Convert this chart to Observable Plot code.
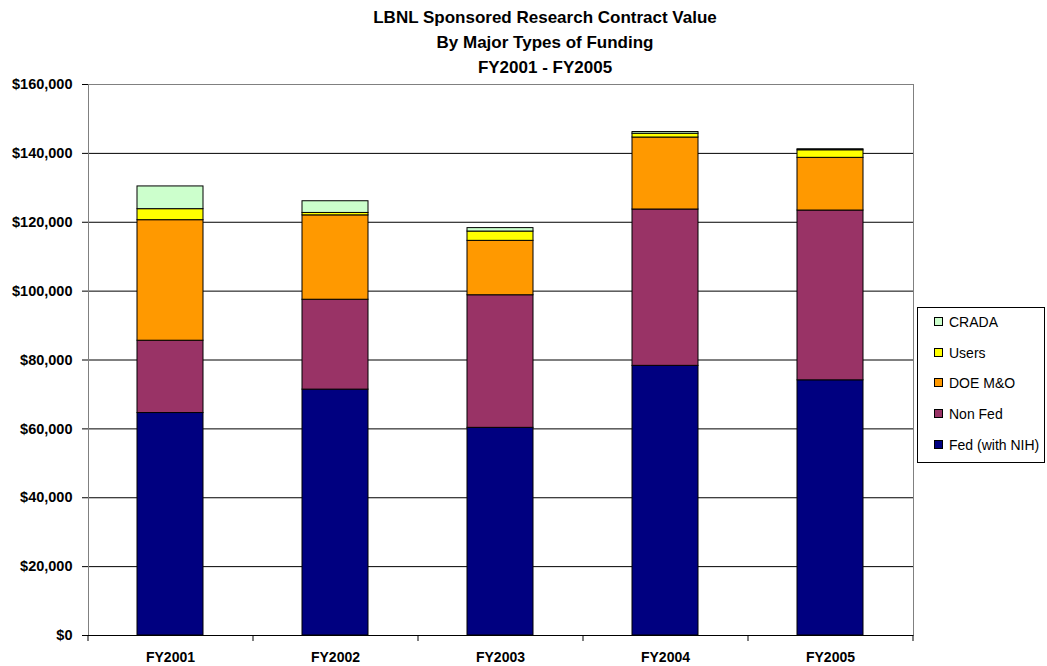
<!DOCTYPE html>
<html>
<head>
<meta charset="utf-8">
<script src="https://cdn.jsdelivr.net/npm/d3@7"></script>
<script src="https://cdn.jsdelivr.net/npm/@observablehq/plot@0.6"></script>
<style>
  html, body { margin: 0; padding: 0; background: #fff; }
  body { font-family: "Liberation Sans", Arial, sans-serif; }
  #wrap { position: relative; width: 1047px; height: 666px; overflow: hidden; }
  #title { position: absolute; left: 0; top: 5px; width: 1090px; text-align: center;
           font-weight: bold; font-size: 17px; line-height: 25px; color: #000; }
  #chart { position: absolute; left: 0; top: 76px; }
  #legend { position: absolute; left: 917px; top: 307px; width: 128px; height: 156px;
            border: 1px solid #000; background: #fff; box-sizing: border-box; }
  .item { position: absolute; left: 16px; font-size: 14px; height: 16px; line-height: 16px; white-space: nowrap; }
  .sw { display: inline-block; width: 7px; height: 7px; border: 1px solid #000; margin-right: 6px; vertical-align: 1px; }
</style>
</head>
<body>
<div id="wrap">
  <div id="title">LBNL Sponsored Research Contract Value<br>By Major Types of Funding<br>FY2001 - FY2005</div>
  <div id="chart"></div>
  <div id="legend"></div>
</div>
<script>
const years = ["FY2001", "FY2002", "FY2003", "FY2004", "FY2005"];
const seriesNames = ["Fed (with NIH)", "Non Fed", "DOE M&O", "Users", "CRADA"];
const seriesColors = ["#000080", "#993366", "#FF9900", "#FFFF00", "#CCFFCC"];
const fedWithNIH = [64600, 71400, 60300, 78300, 74100];
const nonFed = [21000, 26100, 38500, 45400, 49300];
const doeMO = [35000, 24500, 15800, 20900, 15300];
const users = [3200, 700, 2700, 1100, 2200];
const crada = [6600, 3400, 1000, 500, 300];
const yTicks = [0, 20000, 40000, 60000, 80000, 100000, 120000, 140000, 160000];

const seriesValues = [fedWithNIH, nonFed, doeMO, users, crada];
const data = [];
seriesNames.forEach((s, i) => years.forEach((y, j) => data.push({year: y, series: s, value: seriesValues[i][j]})));

const fmt = d => "$" + d3.format(",")(d);
const font = "'Liberation Sans', Arial, sans-serif";

const chart = Plot.plot({
  width: 1047,
  height: 590,
  marginLeft: 88,
  marginRight: 134,
  marginTop: 8,
  marginBottom: 31,
  style: {fontFamily: font, fontSize: "14px", background: "#fff", color: "#000"},
  x: {type: "band", domain: years, paddingInner: 0.6, paddingOuter: 0.3, label: null},
  y: {domain: [0, 160000], label: null},
  color: {domain: seriesNames, range: seriesColors},
  marks: [
    Plot.ruleY(yTicks.slice(1, -1), {stroke: "#000", strokeWidth: 1}),
    Plot.frame({stroke: "#808080", strokeWidth: 1}),
    Plot.barY(data, {x: "year", y: "value", fill: "series", stroke: "#000", strokeWidth: 1, order: seriesNames}),
    Plot.ruleX([0], {stroke: "#000"}),
    Plot.ruleY([0], {stroke: "#000"}),
    Plot.axisY({ticks: yTicks, tickFormat: fmt, tickSize: 6, tickPadding: 10, fontWeight: "bold", fontSize: 14.5, stroke: "#000"}),
    Plot.axisX({tickSize: 0, tickPadding: 17, fontWeight: "bold", fontSize: 14}),
    Plot.axisX({tickSize: 6, text: null, dx: -82.5, stroke: "#000"}),
    Plot.axisX({ticks: [years[years.length - 1]], tickSize: 6, text: null, dx: 82.5, stroke: "#000"})
  ]
});
document.getElementById("chart").appendChild(chart);

const legend = document.getElementById("legend");
const order = seriesNames.slice().reverse();
order.forEach((s, i) => {
  const div = document.createElement("div");
  div.className = "item";
  div.style.top = (6 + i * 30.7) + "px";
  const sw = document.createElement("span");
  sw.className = "sw";
  sw.style.background = seriesColors[seriesNames.indexOf(s)];
  div.appendChild(sw);
  div.appendChild(document.createTextNode(s));
  legend.appendChild(div);
});
</script>
</body>
</html>
